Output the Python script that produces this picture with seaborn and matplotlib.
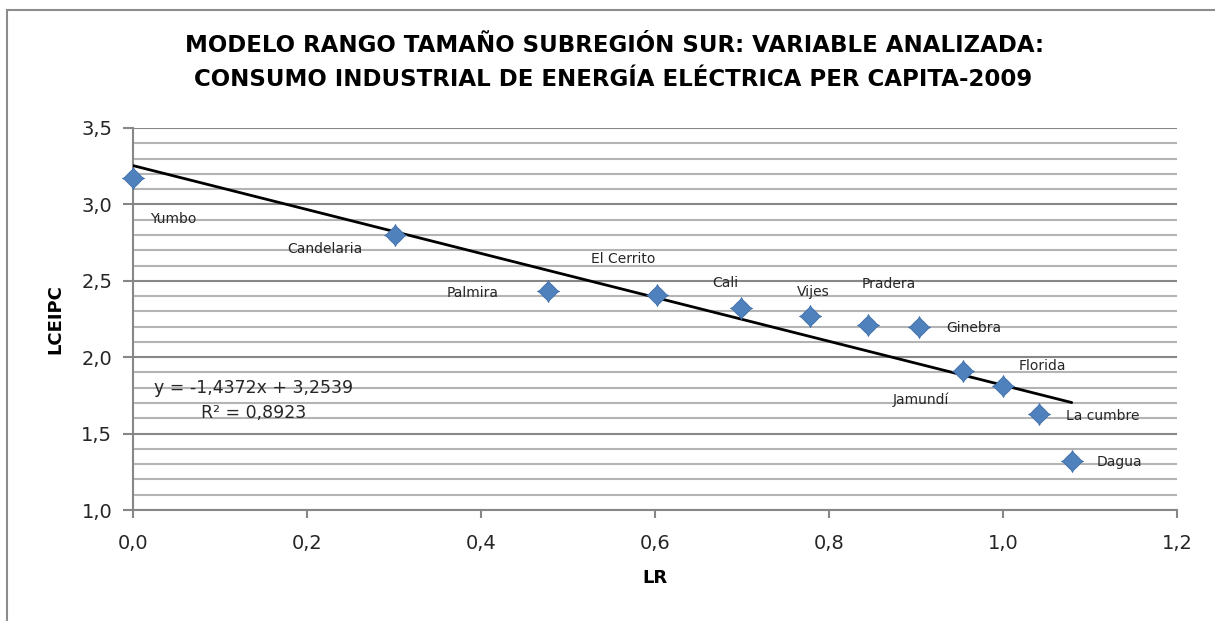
import matplotlib
matplotlib.use("Agg")
import numpy as np
import pandas as pd
import matplotlib.pyplot as plt
import seaborn as sns
from matplotlib.ticker import FuncFormatter, MultipleLocator
from matplotlib.patches import Rectangle

# Municipalities of the southern subregion, ordered by rank
municipios = ["Yumbo", "Candelaria", "Palmira", "El Cerrito", "Cali", "Vijes",
              "Pradera", "Ginebra", "Jamundí", "Florida", "La cumbre", "Dagua"]
# log10 of the rank
lr = [0.000, 0.301, 0.477, 0.602, 0.699, 0.778, 0.845, 0.903, 0.954, 1.000, 1.041, 1.079]
# log10 of industrial electricity consumption per capita
lceipc = [3.17, 2.80, 2.43, 2.41, 2.32, 2.27, 2.21, 2.20, 1.91, 1.81, 1.63, 1.32]

# Linear trend reported for the series
pendiente = -1.4372
intercepto = 3.2539
r2 = 0.8923

# Label offsets in pixels (dx, dy) and horizontal alignment
desplaz = [(17, -41, "left"), (-32, -14, "right"), (-49, -2, "right"),
           (-34, 36, "center"), (-16, 25, "center"), (3, 24, "center"),
           (21, 41, "center"), (28, -1, "left"), (-14, -29, "right"),
           (16, 20, "left"), (27, -2, "left"), (25, -1, "left")]

df = pd.DataFrame({"municipio": municipios, "LR": lr, "LCEIPC": lceipc})

sns.set_theme(style="white")
plt.rcParams["font.family"] = ["DejaVu Sans"]

fig = plt.figure(figsize=(12.15, 6.21), dpi=100)
ax = fig.add_axes([133 / 1215, 1 - 510 / 621, (1177 - 133) / 1215, (510 - 128) / 621])

# Outer chart frame
fig.add_artist(Rectangle((7 / 1215, -0.5), 1.5, 1 - 10 / 621 + 0.5,
                         transform=fig.transFigure, fill=False,
                         edgecolor="#8c8c8c", linewidth=1.5))

azul = "#4f81bd"

# Diamond with short pointed tips
q = [(1.0, 0.0), (0.80, 0.10), (0.46, 0.46), (0.10, 0.80)]
verts = []
for k in range(4):
    c, s_ = np.cos(k * np.pi / 2), np.sin(k * np.pi / 2)
    verts += [(x * c - y * s_, x * s_ + y * c) for x, y in q]
verts.append(verts[0])

# Trend line from the reported equation
xs = np.array([min(lr), max(lr)])
tend = pd.DataFrame({"LR": xs, "LCEIPC": pendiente * xs + intercepto})
sns.lineplot(data=tend, x="LR", y="LCEIPC", color="black", linewidth=2, ax=ax, zorder=3)

sns.scatterplot(data=df, x="LR", y="LCEIPC", marker=verts, s=250, color=azul,
                edgecolor="#3f6fa8", linewidth=0.6, ax=ax, zorder=4, clip_on=False)

for nombre, x, y, (dx, dy, ha) in zip(municipios, lr, lceipc, desplaz):
    ax.annotate(nombre, (x, y), xytext=(dx, dy), textcoords="offset pixels",
                ha=ha, va="center", fontsize=10, color="#262626", zorder=5)

eq = f"y = {pendiente:.4f}x + {intercepto:.4f}".replace(".", ",")
rtxt = f"R² = {r2:.4f}".replace(".", ",")
ax.text(0.139, 1.80, eq, ha="center", va="center", fontsize=12.5, color="#262626", zorder=5)
ax.text(0.139, 1.635, rtxt, ha="center", va="center", fontsize=12.5, color="#262626", zorder=5)

ax.set_xlim(0, 1.2)
ax.set_ylim(1.0, 3.5)
ax.xaxis.set_major_locator(MultipleLocator(0.2))
ax.yaxis.set_major_locator(MultipleLocator(0.5))
ax.yaxis.set_minor_locator(MultipleLocator(0.1))
coma = FuncFormatter(lambda v, p: f"{v:.1f}".replace(".", ","))
ax.xaxis.set_major_formatter(coma)
ax.yaxis.set_major_formatter(coma)

ax.grid(False)
ax.grid(True, axis="y", which="minor", color="#b4b4b4", linewidth=1.5, zorder=0)
ax.grid(True, axis="y", which="major", color="#878787", linewidth=1.5, zorder=0)
ax.set_axisbelow(True)

for s in ["top", "right"]:
    ax.spines[s].set_visible(False)
for s in ["left", "bottom"]:
    ax.spines[s].set_color("#878787")
    ax.spines[s].set_linewidth(1.5)

ax.tick_params(axis="both", which="major", direction="out", color="#878787",
               width=1.5, labelsize=14, labelcolor="#262626")
ax.tick_params(axis="x", which="major", length=6, pad=11, bottom=True)
ax.tick_params(axis="y", which="major", length=7, pad=8, left=True)
ax.tick_params(axis="y", which="minor", length=0)

ax.set_xlabel("LR", fontsize=13, fontweight="bold", labelpad=12, color="black")
ax.set_ylabel("LCEIPC", fontsize=13, fontweight="bold", labelpad=12, color="black")

fig.text(0.506, 1 - 46 / 621, "MODELO RANGO TAMAÑO SUBREGIÓN SUR: VARIABLE ANALIZADA:",
         ha="center", va="center", fontsize=16.5, fontweight="bold", color="black")
fig.text(0.505, 1 - 80 / 621, "CONSUMO INDUSTRIAL DE ENERGÍA ELÉCTRICA PER CAPITA-2009",
         ha="center", va="center", fontsize=16.5, fontweight="bold", color="black")

fig.savefig("out.png", dpi=100, facecolor="white")
